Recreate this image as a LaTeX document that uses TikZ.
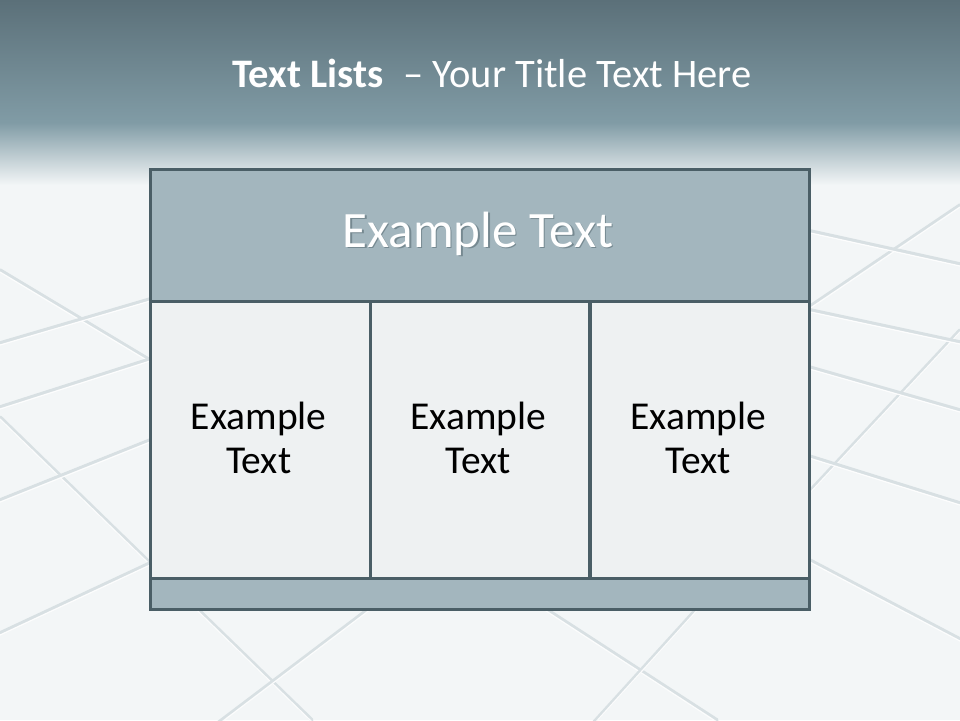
\documentclass[tikz,border=0pt]{standalone}
\usepackage{fontspec}
\setmainfont{Carlito}
\definecolor{bandtop}{HTML}{5B7079}
\definecolor{bandbot}{HTML}{819CA6}
\definecolor{floorc}{HTML}{F3F6F7}
\definecolor{grout}{HTML}{D8E0E3}
\definecolor{edgec}{HTML}{4A5E66}
\definecolor{headfill}{HTML}{A3B6BE}
\definecolor{cellfill}{HTML}{EEF1F2}
\tikzset{
  groutline/.style={draw=grout,line width=3.5pt,line cap=round},
  groutlight/.style={draw=white,line width=1.2pt,line cap=round,opacity=.9},
  panel/.style={draw=edgec,line width=3pt,inner sep=0pt,anchor=north west},
  headbox/.style={panel,fill=headfill,minimum width=659pt,minimum height=132pt},
  cellbox/.style={panel,fill=cellfill,minimum width=219.5pt,minimum height=277pt},
  footbox/.style={panel,fill=headfill,minimum width=659pt,minimum height=31pt},
  celltext/.style={align=center,inner sep=0pt,font=\fontsize{39.5}{44}\selectfont,text=black},
  headtext/.style={inner sep=0pt,anchor=base,font=\fontsize{51}{60}\selectfont},
  titletext/.style={inner sep=0pt,anchor=base,text=white,font=\fontsize{40.5}{48}\selectfont}
}
\begin{document}
\begin{tikzpicture}[x=1pt,y=-1pt]
\useasboundingbox (0,0) rectangle (960,720);
% background
\fill[floorc] (0,0) rectangle (960,720);
\shade[top color=bandtop,bottom color=bandbot] (0,0) rectangle (960,124);
\shade[top color=bandbot,bottom color=floorc] (0,123) rectangle (960,185);
% floor grout lines
\foreach \a/\b in {
  {(0,270)}/{(150,360)},
  {(0,343)}/{(150,299)},
  {(0,407)}/{(150,359)},
  {(0,417)}/{(312,720)},
  {(0,500)}/{(150,440)},
  {(0,633)}/{(150,563)},
  {(400,585)}/{(215,725)},
  {(540,605)}/{(717,720)},
  {(700,605)}/{(594,722)},
  {(806,495)}/{(960,330)},
  {(806,309)}/{(960,205)},
  {(806,230)}/{(960,264)},
  {(806,309)}/{(960,342)},
  {(806,366)}/{(960,410)},
  {(806,455)}/{(960,503)},
  {(806,558)}/{(960,639)}}{
  \draw[groutline] \a -- \b;
  \draw[groutlight,shift={(0,2)}] \a -- \b;
}
% title
\node[titletext] (title) at (492,87) {\textbf{Text Lists}\hspace{20pt}– Your Title Text Here};
% table
\node[headbox] (header) at (149,168) {};
\node[cellbox] (c1) at (149,300) {};
\node[cellbox] (c2) at (368.5,300) {};
\node[cellbox] (c3) at (588.5,300) {};
\node[footbox] (footer) at (149,577) {};
% texts
\node[headtext,text=edgec,opacity=.5] (hshadow) at (479.5,248.5) {Example Text};
\node[headtext,text=white] (htext) at (478,247) {Example Text};
\node[celltext] (t1) at (c1.center) [xshift=-1.5pt,yshift=2.5pt] {Example\\Text};
\node[celltext] (t2) at (c2.center) [xshift=-1.5pt,yshift=2.5pt] {Example\\Text};
\node[celltext] (t3) at (c3.center) [xshift=-1.5pt,yshift=2.5pt] {Example\\Text};
\end{tikzpicture}
\end{document}
